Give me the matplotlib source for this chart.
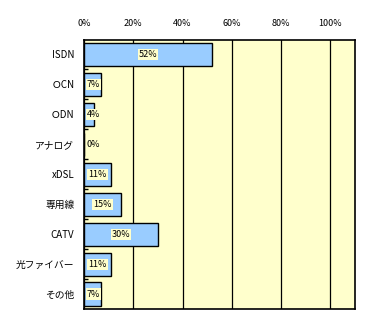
import matplotlib
matplotlib.use('Agg')
import matplotlib.pyplot as plt
import numpy as np

plt.rcParams['font.family'] = ['Noto Sans CJK JP', 'DejaVu Sans']

categories = ['ISDN', 'ＯCN', 'ＯDN', 'アナログ', 'xDSL', '専用線', 'CATV', '光ファイバー', 'その他']
values = [52, 7, 4, 0, 11, 15, 30, 11, 7]
xticks = [0, 20, 40, 60, 80, 100]

fig = plt.figure(figsize=(3.84, 3.24), dpi=100)
ax = fig.add_axes([84 / 384, 15 / 324, 271 / 384, 269.5 / 324])
ax.set_facecolor('#FFFFCC')

y = np.arange(len(categories))
ax.barh(y, values, height=0.77, color='#99CCFF', edgecolor='black', linewidth=1, zorder=3)

# value labels, kept inside the plot for short bars
for yi, v in zip(y, values):
    if v < 8:
        x, ha = 1.2, 'left'
    else:
        x, ha = v / 2, 'center'
    ax.text(x, yi, f'{v}%', ha=ha, va='center', fontsize=6.5, zorder=4,
            bbox=dict(facecolor='#FFFFCC', edgecolor='none', pad=0.8))

ax.set_xlim(0, 110)
ax.set_ylim(len(categories) - 0.5, -0.5)
ax.set_xticks(xticks)
ax.set_xticklabels([f'{t}%' for t in xticks], fontsize=6.5)
ax.xaxis.tick_top()
ax.tick_params(axis='x', length=0, pad=8)
ax.grid(axis='x', color='black', linewidth=0.9, zorder=1)

ax.set_yticks(y)
ax.set_yticklabels(categories, fontsize=7)
ax.tick_params(axis='y', which='major', length=0, pad=7)
ax.set_yticks(np.arange(0.5, len(categories) - 1, 1), minor=True)
ax.tick_params(axis='y', which='minor', direction='in', length=3, width=1)

for s in ax.spines.values():
    s.set_linewidth(1.2)
    s.set_zorder(5)

fig.savefig('out.png', dpi=100)
